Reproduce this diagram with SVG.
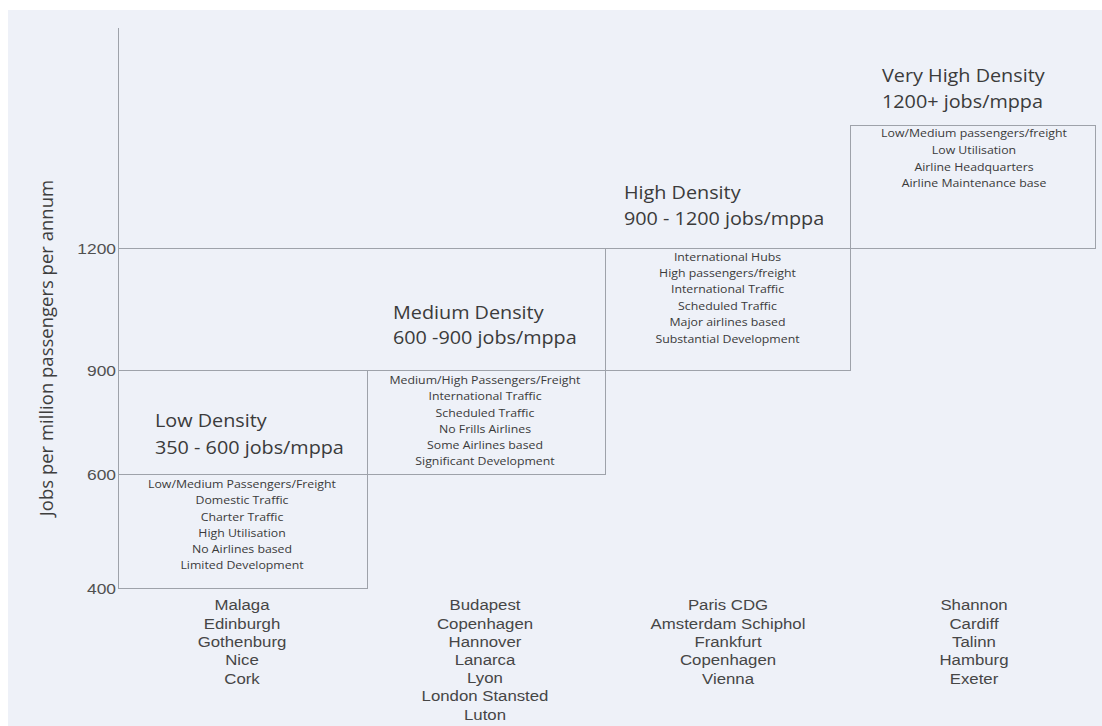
<svg xmlns="http://www.w3.org/2000/svg" width="1102" height="726" viewBox="0 0 1102 726">
<style>
.bg{fill:#eef1f8}
.ln{stroke:#9ea2aa;stroke-width:1;fill:none}
.box{stroke:#9ea2aa;stroke-width:1;fill:none}
.title{font-family:"Open Sans","Noto Sans",sans-serif;font-size:18px;fill:#3b3b3b}
.small{font-family:"Open Sans","Noto Sans",sans-serif;font-size:11px;fill:#3a3a3a;text-anchor:middle}
.city{font-family:"Liberation Sans",Arial,sans-serif;font-size:15px;fill:#464646;text-anchor:middle}
.tick{font-family:"Liberation Sans",Arial,sans-serif;font-size:15px;fill:#505050;text-anchor:end}
.axl{font-family:"Open Sans","Noto Sans",sans-serif;font-size:18.5px;fill:#3e3e3e;text-anchor:middle}
</style>
<rect x="0" y="0" width="1102" height="726" fill="#ffffff"/>
<rect class="bg" x="8" y="10" width="1094" height="716"/>

<g id="axis">
  <text class="axl" transform="translate(53 348) rotate(-90)">Jobs per million passengers per annum</text>
  <text class="tick" transform="translate(116 254) scale(1.16 1)">1200</text>
  <text class="tick" transform="translate(116 376) scale(1.16 1)">900</text>
  <text class="tick" transform="translate(116 480) scale(1.16 1)">600</text>
  <text class="tick" transform="translate(116 594) scale(1.16 1)">400</text>
</g>

<g id="connectors">
  <path class="ln" d="M118.5 28V588.5"/>
  <path class="ln" d="M118.5 370.5H367.5"/>
  <path class="ln" d="M118.5 248.5H605.5"/>
</g>

<g id="low-density">
  <rect class="box" x="118.5" y="474.5" width="249" height="114"/>
  <text class="title" transform="translate(155 0) scale(1.1 1)"><tspan x="0" y="427">Low Density</tspan><tspan x="0" y="454">350 - 600 jobs/mppa</tspan></text>
  <text class="small" transform="translate(242 0) scale(1.12 1)"><tspan x="0" y="488">Low/Medium Passengers/Freight</tspan><tspan x="0" y="504.3">Domestic Traffic</tspan><tspan x="0" y="520.6">Charter Traffic</tspan><tspan x="0" y="536.9">High Utilisation</tspan><tspan x="0" y="553.2">No Airlines based</tspan><tspan x="0" y="569.5">Limited Development</tspan></text>
  <text class="city" transform="translate(242 0) scale(1.12 1)"><tspan x="0" y="610.5">Malaga</tspan><tspan x="0" y="628.8">Edinburgh</tspan><tspan x="0" y="647.1">Gothenburg</tspan><tspan x="0" y="665.4">Nice</tspan><tspan x="0" y="683.7">Cork</tspan></text>
</g>

<g id="medium-density">
  <rect class="box" x="367.5" y="370.5" width="238" height="104"/>
  <text class="title" transform="translate(393 0) scale(1.1 1)"><tspan x="0" y="319">Medium Density</tspan><tspan x="0" y="344">600 -900 jobs/mppa</tspan></text>
  <text class="small" transform="translate(485 0) scale(1.12 1)"><tspan x="0" y="384">Medium/High Passengers/Freight</tspan><tspan x="0" y="400.3">International Traffic</tspan><tspan x="0" y="416.6">Scheduled Traffic</tspan><tspan x="0" y="432.9">No Frills Airlines</tspan><tspan x="0" y="449.2">Some Airlines based</tspan><tspan x="0" y="465.5">Significant Development</tspan></text>
  <text class="city" transform="translate(485 0) scale(1.12 1)"><tspan x="0" y="610.5">Budapest</tspan><tspan x="0" y="628.7">Copenhagen</tspan><tspan x="0" y="646.9">Hannover</tspan><tspan x="0" y="665.1">Lanarca</tspan><tspan x="0" y="683.3">Lyon</tspan><tspan x="0" y="701.5">London Stansted</tspan><tspan x="0" y="719.7">Luton</tspan></text>
</g>

<g id="high-density">
  <rect class="box" x="605.5" y="248.5" width="245" height="122"/>
  <text class="title" transform="translate(624 0) scale(1.1 1)"><tspan x="0" y="199">High Density</tspan><tspan x="0" y="225">900 - 1200 jobs/mppa</tspan></text>
  <text class="small" transform="translate(727.5 0) scale(1.12 1)"><tspan x="0" y="260.7">International Hubs</tspan><tspan x="0" y="277.1">High passengers/freight</tspan><tspan x="0" y="293.5">International Traffic</tspan><tspan x="0" y="309.9">Scheduled Traffic</tspan><tspan x="0" y="326.3">Major airlines based</tspan><tspan x="0" y="342.7">Substantial Development</tspan></text>
  <text class="city" transform="translate(728 0) scale(1.12 1)"><tspan x="0" y="610.5">Paris CDG</tspan><tspan x="0" y="628.8">Amsterdam Schiphol</tspan><tspan x="0" y="647.1">Frankfurt</tspan><tspan x="0" y="665.4">Copenhagen</tspan><tspan x="0" y="683.7">Vienna</tspan></text>
</g>

<g id="very-high-density">
  <rect class="box" x="850.5" y="125.5" width="245" height="123"/>
  <text class="title" transform="translate(882 0) scale(1.1 1)"><tspan x="0" y="82">Very High Density</tspan><tspan x="0" y="108">1200+ jobs/mppa</tspan></text>
  <text class="small" transform="translate(974 0) scale(1.12 1)"><tspan x="0" y="137.3">Low/Medium passengers/freight</tspan><tspan x="0" y="154">Low Utilisation</tspan><tspan x="0" y="170.7">Airline Headquarters</tspan><tspan x="0" y="187.4">Airline Maintenance base</tspan></text>
  <text class="city" transform="translate(974 0) scale(1.12 1)"><tspan x="0" y="610.5">Shannon</tspan><tspan x="0" y="628.8">Cardiff</tspan><tspan x="0" y="647.1">Talinn</tspan><tspan x="0" y="665.4">Hamburg</tspan><tspan x="0" y="683.7">Exeter</tspan></text>
</g>
</svg>
